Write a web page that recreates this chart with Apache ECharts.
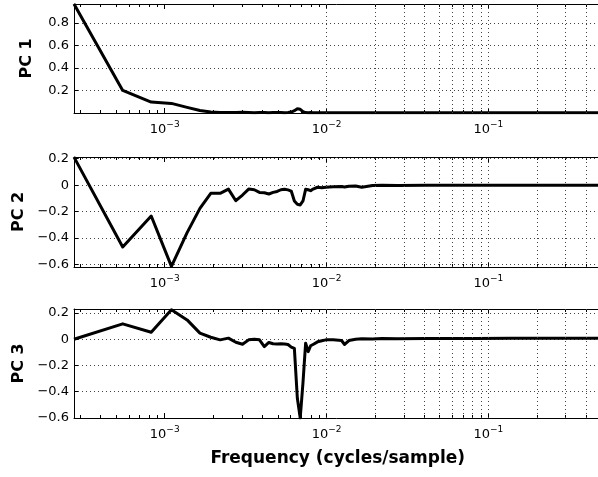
<!DOCTYPE html>
<html>
<head>
<meta charset="utf-8">
<script src="https://cdn.jsdelivr.net/npm/echarts@6/dist/echarts.min.js"></script>
<style>
html,body{margin:0;padding:0;background:#fff;}
#c{width:598px;height:477px;}
</style>
</head>
<body>
<div id="c"></div>
<script>
// Frequencies (cycles/sample)
const freq = [0.000275,0.00055,0.000825,0.0011,0.001375,0.00165,0.001925,0.0022,0.002475,0.00275,
  0.003025,0.0033,0.003575,0.00385,0.004125,0.0044,0.004675,0.00495,0.005225,0.0055,
  0.005775,0.00605,0.006325,0.0066,0.006875,0.00715,0.007425,0.0077,0.007975,0.00825,
  0.0088,0.00935,0.0099,0.011,0.012375,0.012925,0.01375,0.015125,0.0165,0.01925,
  0.022,0.0275,0.04125,0.055,0.0825,0.1375,0.275,0.5];
const pc1 = [0.967,0.2,0.097,0.085,0.05,0.022,0.008,0.005,0.004,0.005,
  0.006,0.004,0.003,0.005,0.004,0.003,0.004,0.005,0.004,0.003,
  0.004,0.008,0.02,0.037,0.033,0.012,0.004,0.003,0.004,0.003,
  0.003,0.003,0.003,0.003,0.003,0.003,0.003,0.003,0.003,0.003,
  0.003,0.003,0.003,0.003,0.003,0.003,0.003,0.003];
const pc2 = [0.212,-0.468,-0.234,-0.615,-0.36,-0.176,-0.062,-0.062,-0.03,-0.118,
  -0.075,-0.03,-0.035,-0.055,-0.058,-0.067,-0.055,-0.048,-0.035,-0.031,
  -0.036,-0.045,-0.12,-0.145,-0.15,-0.12,-0.031,-0.035,-0.042,-0.03,
  -0.016,-0.02,-0.016,-0.013,-0.011,-0.014,-0.008,-0.006,-0.016,-0.003,
  0.0,-0.002,0.0,-0.001,0.0,0.0,0.0,0.0];
const pc3 = [0.0,0.117,0.053,0.224,0.147,0.046,0.015,-0.005,0.008,-0.023,
  -0.038,-0.005,0.0,-0.005,-0.056,-0.025,-0.035,-0.037,-0.035,-0.036,
  -0.04,-0.06,-0.07,-0.45,-0.6,-0.33,-0.03,-0.095,-0.05,-0.04,
  -0.02,-0.012,-0.005,-0.005,-0.01,-0.04,-0.01,0.0,0.003,0.002,
  0.005,0.004,0.005,0.006,0.006,0.007,0.007,0.008];
const yLabels = ['PC 1','PC 2','PC 3'];
const yMin = [0, -0.62, -0.6];
const yMax = [0.967, 0.213, 0.23];
const xMin = 0.000275, xMax = 0.5;
const majorFreqs = [0.001, 0.01, 0.1];
const minorFreqs = [0.0003,0.0004,0.0005,0.0006,0.0007,0.0008,0.0009,
  0.002,0.003,0.004,0.005,0.006,0.007,0.008,0.009,
  0.02,0.03,0.04,0.05,0.06,0.07,0.08,0.09,
  0.2,0.3,0.4];
const gridFreqs = [0.0003,0.0004,0.0005,0.0006,0.0007,0.0008,0.0009,
  0.001,0.002,0.003,0.004,0.005,0.006,0.007,0.008,0.009,
  0.01,0.02,0.03,0.04,0.05,0.06,0.07,0.08,0.09,
  0.1,0.2,0.3,0.4];
const xTitle = 'Frequency (cycles/sample)';

const FONT = 'DejaVu Sans';
const grids = [
  {left:74, top:4, width:527.5, height:109, containLabel:false, outerBoundsMode:'none'},
  {left:74, top:157, width:527.5, height:110, containLabel:false, outerBoundsMode:'none'},
  {left:74, top:309, width:527.5, height:109, containLabel:false, outerBoundsMode:'none'}
];
const series = [pc1, pc2, pc3];

function supLabel(v){
  const e = Math.round(Math.log10(v));
  return '{b|10}{s|' + (e < 0 ? '\u2212' : '') + Math.abs(e) + '}';
}
function yFmt(v){
  const r = Math.round(v*10)/10;
  if (r === 0) return '0';
  return r < 0 ? '\u2212' + Math.abs(r) : String(r);
}

const xAxes = [], yAxes = [], ser = [];
for (let i = 0; i < 3; i++) {
  const base = xAxes.length;
  xAxes.push({
    type:'log', logBase:10, gridIndex:i, min:xMin, max:xMax, position:'bottom',
    axisLine:{show:true, onZero:false, lineStyle:{color:'#000', width:1}},
    axisTick:{show:true, inside:true, length:5, lineStyle:{color:'#000'}},
    splitLine:{show:false},
    axisLabel:{
      show:true, margin:7, showMinLabel:false, showMaxLabel:false,
      formatter: supLabel,
      rich:{
        b:{fontSize:13, fontFamily:FONT, color:'#000', lineHeight:13, padding:[7,0,0,0]},
        s:{fontSize:9, fontFamily:FONT, color:'#000', lineHeight:10, verticalAlign:'top'}
      }
    },
    name: i === 2 ? xTitle : '',
    nameLocation:'middle', nameGap:32,
    nameTextStyle:{fontSize:17, fontWeight:'bold', fontFamily:FONT, color:'#000'}
  });
  xAxes.push({
    type:'log', logBase:10, gridIndex:i, min:xMin, max:xMax, position:'top',
    axisLine:{show:true, onZero:false, lineStyle:{color:'#000', width:1}},
    axisTick:{show:true, inside:true, length:5, lineStyle:{color:'#000'}},
    splitLine:{show:false},
    axisLabel:{show:false}
  });
  // minor ticks (bottom & top)
  ['bottom','top'].forEach(pos => {
    xAxes.push({
      type:'log', logBase:10, gridIndex:i, min:xMin, max:xMax, position:pos,
      axisLine:{show:false, onZero:false},
      axisTick:{show:true, inside:true, length:3, customValues:minorFreqs, lineStyle:{color:'#000'}},
      splitLine:{show:false},
      axisLabel:{show:false}
    });
  });
  yAxes.push({
    type:'value', gridIndex:i, min:yMin[i], max:yMax[i], splitNumber:5,
    axisLine:{show:true, onZero:false, lineStyle:{color:'#000', width:1}},
    axisTick:{show:true, inside:true, length:4, lineStyle:{color:'#000'}},
    splitLine:{show:true, lineStyle:{color:'#444', width:1, type:[1,3]}},
    axisLabel:{
      margin:5, fontSize:13, fontFamily:FONT, color:'#000',
      showMinLabel: i === 2, showMaxLabel:false,
      formatter: yFmt
    },
    name: yLabels[i], nameLocation:'middle', nameGap:39, nameRotate:90,
    nameTextStyle:{fontSize:16, fontWeight:'bold', fontFamily:FONT, color:'#000'}
  });
  ser.push({
    type:'line', xAxisIndex:base, yAxisIndex:i,
    data: freq.map((f, j) => [f, series[i][j]]),
    showSymbol:false, symbol:'none',
    lineStyle:{color:'#000', width:3, join:'round'},
    animation:false, silent:true,
    markLine:{
      silent:true, symbol:['none','none'], label:{show:false}, animation:false,
      lineStyle:{color:'#444', width:1, type:[1,3]},
      emphasis:{disabled:true},
      data: gridFreqs.map(g => ({xAxis:g}))
    }
  });
}

const chart = echarts.init(document.getElementById('c'), null, {renderer:'canvas'});
chart.setOption({
  animation:false,
  backgroundColor:'#fff',
  textStyle:{fontFamily:FONT},
  grid: grids,
  xAxis: xAxes,
  yAxis: yAxes,
  series: ser
});
</script>
</body>
</html>
